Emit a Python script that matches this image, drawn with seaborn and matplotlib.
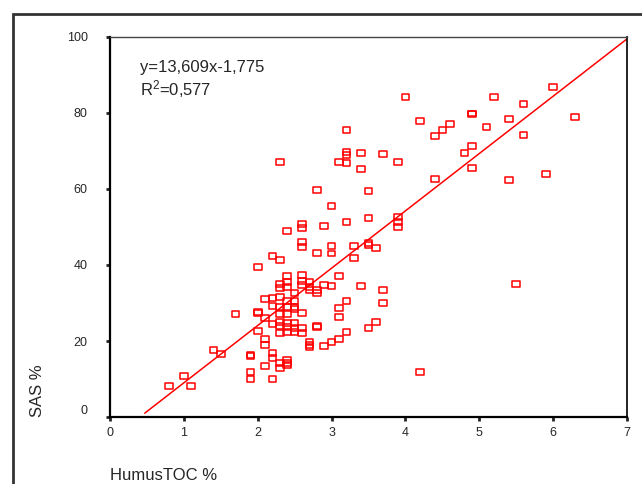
import numpy as np
import pandas as pd
import seaborn as sns
import matplotlib
matplotlib.use("Agg")
import matplotlib.pyplot as plt
from matplotlib.path import Path
from matplotlib.patches import Rectangle
from matplotlib.transforms import ScaledTranslation

# HumusTOC % / SAS % pairs
humus = [
    4.0, 5.2, 5.6, 6.0, 4.2, 4.9, 4.9, 5.4, 6.3, 4.6, 4.5, 4.4, 5.1, 5.6, 4.9, 4.8, 4.9, 4.4, 5.4, 5.9,
    3.2, 3.2, 3.2, 3.4, 3.7, 3.9, 3.2, 3.1, 2.3, 3.4, 3.5, 2.8, 3.0, 3.5, 3.9, 3.9, 3.9, 3.2, 2.9, 2.6,
    2.6, 2.4,
    2.6, 2.6, 2.8, 3.0, 3.0, 3.3, 3.3, 3.5, 3.5, 3.6, 2.2, 2.3, 2.0,
    2.4, 2.4, 2.3, 2.3, 2.4, 2.6, 2.6, 2.6, 2.7, 2.7, 2.7, 2.8, 2.8, 2.9, 3.0, 3.1, 3.4, 3.7, 3.2, 3.7,
    3.1, 3.1, 3.6, 3.5, 3.2, 3.1,
    2.5, 2.5, 2.4, 2.3, 2.2, 2.1, 2.2, 2.3, 2.4, 2.5, 2.5, 2.6, 2.3, 2.4, 2.0, 2.0, 1.7, 2.1, 2.2, 2.3,
    2.4, 2.5, 2.3, 2.4, 2.5, 2.6, 2.3, 2.4, 2.5, 2.6, 2.8, 2.8, 2.0, 2.1, 2.1, 2.7, 2.7, 2.7, 2.9, 3.0,
    1.4, 1.5, 1.9, 1.9, 2.2, 2.2, 2.3, 2.4, 2.4, 2.4, 2.1, 2.3, 1.9, 1.9, 2.2, 1.0, 0.8, 1.1, 5.5, 4.2,
]
sas = [
    84.2, 84.2, 82.4, 86.8, 77.9, 79.7, 79.9, 78.4, 78.9, 77.1, 75.5, 73.9, 76.3, 74.2, 71.3, 69.5, 65.5, 62.6, 62.4, 64.0,
    75.5, 69.7, 69.0, 69.5, 69.2, 67.1, 66.8, 67.1, 67.1, 65.3, 59.5, 59.7, 55.5, 52.4, 52.6, 51.3, 50.0, 51.3, 50.3, 50.8,
    49.7, 49.0,
    46.1, 44.7, 43.2, 45.0, 43.0, 45.0, 41.8, 45.8, 45.3, 44.5, 42.4, 41.3, 39.5,
    37.1, 35.5, 35.0, 34.0, 34.2, 37.4, 35.8, 34.7, 35.5, 34.2, 33.4, 33.4, 32.6, 34.7, 34.5, 37.1, 34.5, 33.4, 30.5, 30.0,
    28.7, 26.3, 25.0, 23.4, 22.4, 20.5,
    32.6, 30.5, 30.5, 31.6, 31.3, 31.1, 29.2, 28.9, 28.9, 28.9, 28.4, 27.4, 27.1, 27.1, 27.6, 27.4, 27.1, 26.1, 24.5, 25.0,
    24.7, 24.7, 23.9, 23.7, 23.4, 23.4, 22.1, 22.4, 22.4, 22.1, 23.9, 23.7, 22.6, 20.5, 19.0, 19.7, 19.0, 18.4, 18.7, 19.7,
    17.6, 16.6, 16.1, 16.3, 16.8, 15.5, 14.2, 15.0, 14.2, 13.7, 13.4, 12.9, 11.8, 10.0, 10.0, 10.8, 8.2, 8.2, 35.0, 11.8,
]

# fitted line as drawn in the chart (end points)
fit_x = [0.47, 7.0]
fit_y = [1.0, 99.5]

x_ticks = [0, 1, 2, 3, 4, 5, 6, 7]
y_ticks = [0, 20, 40, 60, 80, 100]

sns.set_style("ticks")
plt.rcParams['font.family'] = ['Liberation Sans', 'DejaVu Sans']
plt.rcParams['mathtext.fontset'] = 'custom'
plt.rcParams['mathtext.rm'] = 'Liberation Sans'
plt.rcParams['mathtext.it'] = 'Liberation Sans:italic'

df = pd.DataFrame({'HumusTOC': humus, 'SAS': sas})

# flat open rectangle marker like the SPSS one
rect = Path([(-1.4, -1), (1.4, -1), (1.4, 1), (-1.4, 1), (-1.4, -1)],
            [Path.MOVETO, Path.LINETO, Path.LINETO, Path.LINETO, Path.CLOSEPOLY])

fig = plt.figure(figsize=(6.42, 4.84), dpi=100)
ax = fig.add_axes([110 / 642, 1 - 417 / 484, 517 / 642, 380 / 484])

sns.scatterplot(data=df, x='HumusTOC', y='SAS', marker=rect, s=30,
                color='red', facecolors='none', edgecolor='red', linewidth=1.1,
                ax=ax)
sns.lineplot(x=fit_x, y=fit_y, color='red', lw=1.1, ax=ax)

ax.set_xlim(0, 7)
ax.set_ylim(0, 100)
ax.set_xticks(x_ticks)
ax.set_yticks(y_ticks)
ax.tick_params(axis='both', labelsize=9, length=3, width=2, color='#222222')
ax.tick_params(axis='y', pad=13)
ax.tick_params(axis='x', pad=4)

# SPSS puts the zero label a bit higher
zero_lab = ax.get_yticklabels()[0]
zero_lab.set_transform(zero_lab.get_transform() + ScaledTranslation(0, 7 / 100, fig.dpi_scale_trans))

for side in ('left', 'bottom'):
    ax.spines[side].set_linewidth(1.6)
    ax.spines[side].set_color('black')
ax.spines['right'].set_linewidth(1.3)
ax.spines['right'].set_color('#111111')
ax.spines['top'].set_linewidth(1.0)
ax.spines['top'].set_color('#444444')

ax.set_xlabel('')
ax.set_ylabel('')

ax.text(30 / 517, (417 - 72) / 380, 'y=13,609x-1,775', transform=ax.transAxes,
        fontsize=12, va='baseline', ha='left')
ax.text(30 / 517, (417 - 95) / 380, 'R$^2$=0,577', transform=ax.transAxes,
        fontsize=12, va='baseline', ha='left')

fig.text(38 / 642, 1 - 417 / 484, 'SAS %', rotation=90, fontsize=12,
         ha='center', va='bottom')
fig.text(110 / 642, 1 - 475 / 484, 'HumusTOC %', fontsize=12,
         ha='left', va='center')

# outer frame of the chart panel
fig.patches.append(Rectangle((13 / 642, -0.1), 1.2, 0.1 + (484 - 14) / 484,
                             transform=fig.transFigure, fill=False,
                             edgecolor='#333333', linewidth=2))

fig.savefig('out.png', dpi=100)
